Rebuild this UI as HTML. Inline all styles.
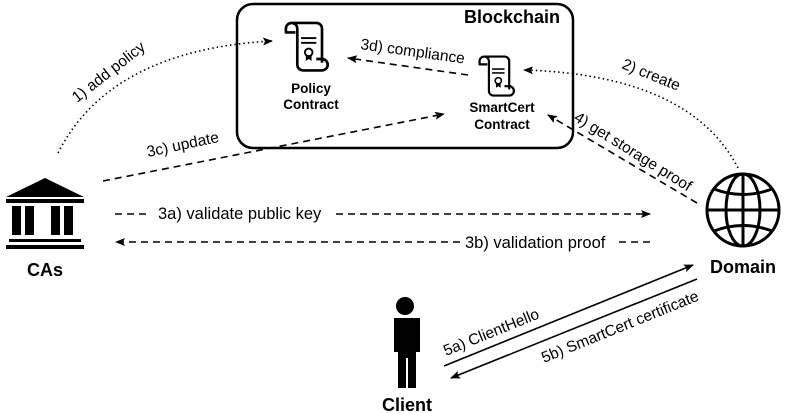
<!DOCTYPE html>
<html><head><meta charset="utf-8"><style>
html,body{margin:0;padding:0;background:#fff}
svg{display:block}
text{font-family:"Liberation Sans",Arial,sans-serif;fill:#000}
.b{font-weight:bold}
</style></head><body>
<svg width="789" height="413" viewBox="0 0 789 413" xmlns="http://www.w3.org/2000/svg">
<defs>
<marker id="ah" markerWidth="10" markerHeight="8" refX="9" refY="4" orient="auto" markerUnits="userSpaceOnUse">
<path d="M0,0 L10,4 L0,8 L2,4 Z" fill="#000"/>
</marker>
<g id="scroll">
<path d="M8,2 h26 a6,6 0 0 1 6,6 v36 M8,2 a6,6 0 0 0 -6,6 v4 h10 M8,2 a6,6 0 0 1 6,6 v38 a6,6 0 0 0 6,6 h20 a6,6 0 0 0 0,-12 h-6" fill="none" stroke="#000" stroke-width="2.8" stroke-linejoin="round"/>
<line x1="18" y1="18" x2="34" y2="18" stroke="#000" stroke-width="2"/>
<line x1="18" y1="23" x2="34" y2="23" stroke="#000" stroke-width="2"/>
<circle cx="26" cy="33" r="4" fill="none" stroke="#000" stroke-width="2"/>
<path d="M23,36 v6 l3,-2 l3,2 v-6" fill="#000"/>
</g>
</defs>

<rect x="237" y="4" width="336" height="144" rx="16" fill="none" stroke="#000" stroke-width="2.5"/>
<text x="512" y="23" font-size="18" class="b" text-anchor="middle">Blockchain</text>

<g transform="translate(284,21) scale(0.95)"><use href="#scroll"/></g>
<text x="311" y="93" font-size="13.5" class="b" text-anchor="middle">Policy</text>
<text x="311" y="109" font-size="13.5" class="b" text-anchor="middle">Contract</text>

<g transform="translate(478,55) scale(0.78)"><use href="#scroll"/></g>
<text x="502" y="112" font-size="13.5" class="b" text-anchor="middle">SmartCert</text>
<text x="502" y="129" font-size="13.5" class="b" text-anchor="middle">Contract</text>

<path d="M58,153 Q110,50 272,41" fill="none" stroke="#000" stroke-width="1.6" stroke-dasharray="1.5,3" marker-end="url(#ah)"/>
<text transform="translate(77,103) rotate(-38)" font-size="15.5">1) add policy</text>

<line x1="468" y1="75" x2="348" y2="58" stroke="#000" stroke-width="1.6" stroke-dasharray="7,5" marker-end="url(#ah)"/>
<text transform="translate(360,49) rotate(8)" font-size="15.5">3d) compliance</text>

<path d="M738,168 Q690,75 524,70" fill="none" stroke="#000" stroke-width="1.6" stroke-dasharray="1.5,3" marker-end="url(#ah)"/>
<text transform="translate(621,68) rotate(22)" font-size="15.5">2) create</text>

<line x1="103" y1="181" x2="444" y2="114" stroke="#000" stroke-width="1.6" stroke-dasharray="7,5" marker-end="url(#ah)"/>
<text transform="translate(148,157) rotate(-12)" font-size="15.5">3c) update</text>

<line x1="697" y1="203" x2="548" y2="115" stroke="#000" stroke-width="1.6" stroke-dasharray="7,5" marker-end="url(#ah)"/>
<text transform="translate(573,120) rotate(32)" font-size="15.5">4) get storage proof</text>

<line x1="115" y1="214" x2="150" y2="214" stroke="#000" stroke-width="1.6" stroke-dasharray="7,5"/>
<line x1="336" y1="214" x2="650" y2="214" stroke="#000" stroke-width="1.6" stroke-dasharray="7,5" marker-end="url(#ah)"/>
<text x="158" y="219" font-size="16.5">3a) validate public key</text>

<line x1="650" y1="242" x2="614" y2="242" stroke="#000" stroke-width="1.6" stroke-dasharray="7,5"/>
<line x1="460" y1="242" x2="116" y2="242" stroke="#000" stroke-width="1.6" stroke-dasharray="7,5" marker-end="url(#ah)"/>
<text x="465" y="248" font-size="16.5">3b) validation proof</text>

<polygon points="6,197 45,178 84,197" fill="#000"/>
<rect x="6" y="199" width="78" height="4" fill="#000"/>
<rect x="12" y="206" width="9" height="29" fill="#000"/>
<rect x="25" y="206" width="9" height="29" fill="#000"/>
<rect x="51" y="206" width="9" height="29" fill="#000"/>
<rect x="64" y="206" width="9" height="29" fill="#000"/>
<rect x="9" y="239" width="72" height="3" fill="#000"/>
<rect x="6" y="245" width="78" height="4" fill="#000"/>
<text x="45" y="276" font-size="18" class="b" text-anchor="middle">CAs</text>

<g fill="none" stroke="#000" stroke-width="3">
<circle cx="743" cy="210" r="36"/>
<ellipse cx="743" cy="210" rx="17" ry="36"/>
<line x1="743" y1="174" x2="743" y2="246"/>
<line x1="707" y1="210" x2="779" y2="210"/>
<path d="M714,189 Q743,200 772,189"/>
<path d="M714,231 Q743,220 772,231"/>
</g>
<text x="743" y="273" font-size="18" class="b" text-anchor="middle">Domain</text>

<circle cx="405" cy="306" r="9" fill="#000"/>
<path d="M390,318 h30 v34 h-4 v36 h-8 v-30 h-2 v30 h-8 v-36 h-4 v-34 h-4z" fill="#000"/>
<text x="407" y="411" font-size="18" class="b" text-anchor="middle">Client</text>

<line x1="444" y1="366" x2="693" y2="265" stroke="#000" stroke-width="1.6" marker-end="url(#ah)"/>
<line x1="697" y1="279" x2="451" y2="378" stroke="#000" stroke-width="1.6" marker-end="url(#ah)"/>
<text transform="translate(446,356) rotate(-22)" font-size="15.5">5a) ClientHello</text>
<text transform="translate(544,363) rotate(-22)" font-size="15.5">5b) SmartCert certificate</text>
</svg>
</body></html>
